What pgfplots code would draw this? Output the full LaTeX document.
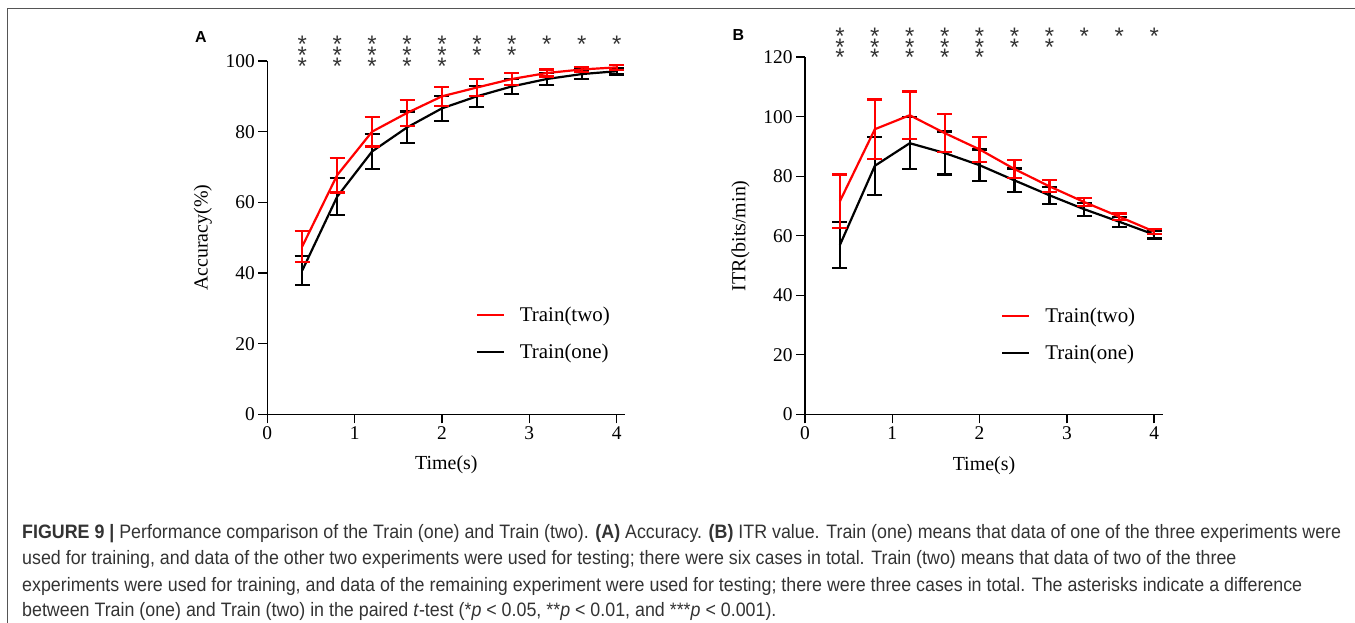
\documentclass[border=0pt]{standalone}
\usepackage{pgfplots}
\usepackage{pgfplotstable}
\pgfplotsset{compat=1.18}
\usepackage{fontspec}
\setmainfont{Liberation Serif}
\newfontfamily\capfont[FakeStretch=0.918]{Liberation Sans}
\newfontfamily\sansf{Liberation Sans}
\definecolor{capgray}{HTML}{333333}
\definecolor{framegray}{HTML}{555555}
\newcommand{\tightlines}{\lineskiplimit=-100pt\relax}

\pgfplotstableread{
x   r     re   b     be
0.4 47.5  4.3  40.7  4.0
0.8 67.7  4.9  61.6  5.2
1.2 80.0  4.2  74.4  5.0
1.6 85.3  3.7  81.2  4.5
2.0 90.0  2.7  86.6  3.5
2.4 92.5  2.3  90.0  3.0
2.8 94.9  1.6  92.8  2.1
3.2 96.6  1.0  94.9  1.8
3.6 97.6  0.8  96.3  1.3
4.0 98.2  0.7  97.1  0.9
}\tabA

\pgfplotstableread{
x   r      re    b     be
0.4 71.6   9.0   56.9  7.8
0.8 95.8   10.0  83.5  9.8
1.2 100.5  8.0   91.1  8.8
1.6 94.5   6.3   87.8  7.2
2.0 89.0   4.3   83.7  5.3
2.4 82.4   3.0   78.6  4.0
2.8 76.6   2.0   73.6  2.9
3.2 71.3   1.3   68.9  2.2
3.6 66.4   1.1   64.7  1.7
4.0 61.4   0.8   60.4  1.3
}\tabB

\tikzset{stars/.style={anchor=north, align=center, inner sep=0pt, text=capgray,
  font={\sansf\fontsize{24}{8.3}\selectfont\tightlines}}}

\pgfplotsset{
  myaxis/.style={
    scale only axis,
    axis x line*=bottom, axis y line*=left,
    xmin=0, xmax=4.1, ymin=0,
    xtick={0,1,2,3,4},
    tick align=outside, major tick length=9bp,
    axis line style={line width=1.4bp, black},
    every tick/.style={line width=1.4bp, black},
    /pgf/number format/assume math mode=true,
    tick label style={font=\fontsize{19.5}{21}\selectfont},
    xlabel={Time(s)},
    every axis x label/.style={at={(axis description cs:0.5,-0.143)}, anchor=center, font=\fontsize{20}{22}\selectfont},
    every axis y label/.style={at={(axis description cs:-0.18,0.5)}, rotate=90, anchor=center, font=\fontsize{20}{22}\selectfont},
    clip=false,
    legend style={draw=none, fill=none, font=\fontsize{21}{25}\selectfont, anchor=north west, row sep=17bp},
    legend cell align=left,
    legend image code/.code={\draw[##1, line width=2.2bp] (0bp,0bp) -- (27bp,0bp); \path (40bp,0bp);},
  },
  redline/.style={red, line width=2.2bp, error bars/.cd, y dir=both, y explicit,
     error bar style={line width=2.2bp, red}, error mark options={rotate=90, red, line width=2.2bp, mark size=7.5bp}, /pgfplots/.cd},
  blackline/.style={black, line width=2.2bp, error bars/.cd, y dir=both, y explicit,
     error bar style={line width=2.2bp, black}, error mark options={rotate=90, black, line width=2.2bp, mark size=7.5bp}, /pgfplots/.cd},
}

\begin{document}
\begin{tikzpicture}
\path[use as bounding box] (0bp,0bp) rectangle (1355bp,623bp);
\draw[framegray, line width=1.4bp] (7.3bp,0bp) -- (7.3bp,614.7bp) -- (1355bp,614.7bp);

% Panel A
\begin{axis}[myaxis, at={(267.3bp,208.7bp)}, anchor=south west,
  width=358.1bp, height=353.3bp, ymax=100, ytick={0,20,40,60,80,100},
  ylabel={Accuracy(\%)},
  legend style={at={(axis cs:2.35,31.5)}}]
\addlegendimage{red, line width=2.2bp}\addlegendentry{Train(two)}
\addlegendimage{black, line width=2.2bp}\addlegendentry{Train(one)}
\addplot[forget plot, blackline] table[x=x, y=b, y error=be]{\tabA};
\addplot[forget plot, redline] table[x=x, y=r, y error=re]{\tabA};
\node[stars] at (axis cs:0.4,107.1) {*\\[2.5bp]*\\[2.5bp]*};
\node[stars] at (axis cs:0.8,107.1) {*\\[2.5bp]*\\[2.5bp]*};
\node[stars] at (axis cs:1.2,107.1) {*\\[2.5bp]*\\[2.5bp]*};
\node[stars] at (axis cs:1.6,107.1) {*\\[2.5bp]*\\[2.5bp]*};
\node[stars] at (axis cs:2.0,107.1) {*\\[2.5bp]*\\[2.5bp]*};
\node[stars] at (axis cs:2.4,107.1) {*\\[2.5bp]*};
\node[stars] at (axis cs:2.8,107.1) {*\\[2.5bp]*};
\node[stars] at (axis cs:3.2,107.1) {*};
\node[stars] at (axis cs:3.6,107.1) {*};
\node[stars] at (axis cs:4.0,107.1) {*};
\end{axis}

% Panel B
\begin{axis}[myaxis, at={(805bp,208.7bp)}, anchor=south west,
  width=357.9bp, height=357.1bp, ymax=120, ytick={0,20,40,60,80,100,120},
  ylabel={ITR(bits/min)},
  legend style={at={(axis cs:2.21,37)}}]
\addlegendimage{red, line width=2.2bp}\addlegendentry{Train(two)}
\addlegendimage{black, line width=2.2bp}\addlegendentry{Train(one)}
\addplot[forget plot, blackline] table[x=x, y=b, y error=be]{\tabB};
\addplot[forget plot, redline] table[x=x, y=r, y error=re]{\tabB};
\node[stars] at (axis cs:0.4,129.9) {*\\[2.5bp]*\\[2.5bp]*};
\node[stars] at (axis cs:0.8,129.9) {*\\[2.5bp]*\\[2.5bp]*};
\node[stars] at (axis cs:1.2,129.9) {*\\[2.5bp]*\\[2.5bp]*};
\node[stars] at (axis cs:1.6,129.9) {*\\[2.5bp]*\\[2.5bp]*};
\node[stars] at (axis cs:2.0,129.9) {*\\[2.5bp]*\\[2.5bp]*};
\node[stars] at (axis cs:2.4,129.9) {*\\[2.5bp]*};
\node[stars] at (axis cs:2.8,129.9) {*\\[2.5bp]*};
\node[stars] at (axis cs:3.2,129.9) {*};
\node[stars] at (axis cs:3.6,129.9) {*};
\node[stars] at (axis cs:4.0,129.9) {*};
\end{axis}

\node[font=\sansf\bfseries\fontsize{16}{18}\selectfont] at (201bp,586.3bp) {A};
\node[font=\sansf\bfseries\fontsize{16}{18}\selectfont] at (738.3bp,588bp) {B};

\begin{scope}[every node/.style={anchor=base west, inner sep=0pt, text=capgray, font=\capfont\fontsize{19.5}{21}\selectfont}]
\node at (22bp,84bp) {\textbf{FIGURE 9 |} Performance comparison of the Train (one) and Train (two). \textbf{(A)} Accuracy. \textbf{(B)} ITR value. Train (one) means that data of one of the three experiments were};
\node at (22bp,58bp) {used for training, and data of the other two experiments were used for testing; there were six cases in total. Train (two) means that data of two of the three};
\node at (22bp,32bp) {experiments were used for training, and data of the remaining experiment were used for testing; there were three cases in total. The asterisks indicate a difference};
\node at (22bp,7bp) {between Train (one) and Train (two) in the paired \textit{t}-test (*\textit{p} < 0.05, **\textit{p} < 0.01, and ***\textit{p} < 0.001).};
\end{scope}
\end{tikzpicture}
\end{document}
